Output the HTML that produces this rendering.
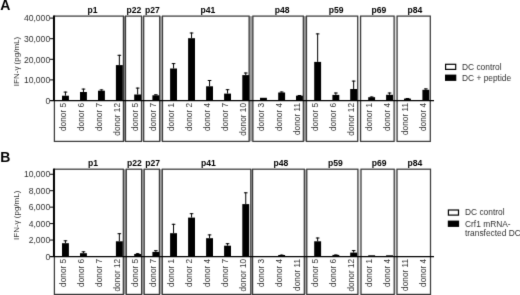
<!DOCTYPE html>
<html><head><meta charset="utf-8"><style>
html,body{margin:0;padding:0;background:#fff;width:520px;height:295px;overflow:hidden}
svg{display:block;font-family:"Liberation Sans",sans-serif;filter:grayscale(1)}
</style></head><body>
<svg width="520" height="295" viewBox="0 0 520 295">
<defs><filter id="soft" x="0" y="0" width="520" height="295" filterUnits="userSpaceOnUse" color-interpolation-filters="sRGB"><feConvolveMatrix order="3" kernelMatrix="0.01 0.08 0.01 0.08 0.64 0.08 0.01 0.08 0.01" edgeMode="duplicate"/></filter></defs>
<g filter="url(#soft)"><rect x="0" y="0" width="520" height="295" fill="#fff"/>
<text x="0.3" y="9.9" font-size="14" font-weight="bold" fill="#000">A</text>
<rect x="123.4" y="16.1" width="2.10" height="125.30" fill="#8a8a8a"/>
<rect x="141.5" y="16.1" width="2.20" height="125.30" fill="#c4c4c4"/>
<rect x="159.7" y="16.1" width="2.80" height="125.30" fill="#b0b0b0"/>
<rect x="249.1" y="16.1" width="3.80" height="125.30" fill="#a0a0a0"/>
<rect x="303.3" y="16.1" width="3.20" height="125.30" fill="#9a9a9a"/>
<rect x="357.7" y="16.1" width="2.90" height="125.30" fill="#f0f0f0"/>
<rect x="394.1" y="16.1" width="3.00" height="125.30" fill="#e4e4e4"/>
<text x="92.6" y="12.5" font-size="8.6" font-weight="bold" text-anchor="middle" fill="#000">p1</text>
<rect x="54.4" y="16.1" width="69.00" height="125.30" fill="none" stroke="#3a3a3a" stroke-width="1.25"/>
<rect x="62" y="95.7" width="6.9" height="4.80" fill="#000"/>
<line x1="65.45" y1="91.6" x2="65.45" y2="95.7" stroke="#000" stroke-width="1"/>
<line x1="63.65" y1="92.10" x2="67.25" y2="92.10" stroke="#000" stroke-width="1"/>
<text transform="translate(66.00,102.9) rotate(-90)" font-size="8.3" text-anchor="end" fill="#303030">donor 5</text>
<rect x="80" y="92" width="6.9" height="8.50" fill="#000"/>
<line x1="83.45" y1="88.6" x2="83.45" y2="92" stroke="#000" stroke-width="1"/>
<line x1="81.65" y1="89.10" x2="85.25" y2="89.10" stroke="#000" stroke-width="1"/>
<text transform="translate(84.00,102.9) rotate(-90)" font-size="8.3" text-anchor="end" fill="#303030">donor 6</text>
<rect x="98" y="90.7" width="6.9" height="9.80" fill="#000"/>
<line x1="101.45" y1="89.4" x2="101.45" y2="90.7" stroke="#000" stroke-width="1"/>
<line x1="99.65" y1="89.90" x2="103.25" y2="89.90" stroke="#000" stroke-width="1"/>
<text transform="translate(102.00,102.9) rotate(-90)" font-size="8.3" text-anchor="end" fill="#303030">donor 7</text>
<rect x="115.9" y="65.1" width="6.9" height="35.40" fill="#000"/>
<line x1="119.35" y1="54.8" x2="119.35" y2="65.1" stroke="#000" stroke-width="1"/>
<line x1="117.55" y1="55.30" x2="121.15" y2="55.30" stroke="#000" stroke-width="1"/>
<text transform="translate(119.90,102.9) rotate(-90)" font-size="8.3" text-anchor="end" fill="#303030">donor 12</text>
<text x="134" y="12.5" font-size="8.6" font-weight="bold" text-anchor="middle" fill="#000">p22</text>
<rect x="125.5" y="16.1" width="16.00" height="125.30" fill="none" stroke="#3a3a3a" stroke-width="1.25"/>
<rect x="134.2" y="94.5" width="6.9" height="6.00" fill="#000"/>
<line x1="137.65" y1="87.6" x2="137.65" y2="94.5" stroke="#000" stroke-width="1"/>
<line x1="135.85" y1="88.10" x2="139.45" y2="88.10" stroke="#000" stroke-width="1"/>
<text transform="translate(138.20,102.9) rotate(-90)" font-size="8.3" text-anchor="end" fill="#303030">donor 5</text>
<text x="152.5" y="12.5" font-size="8.6" font-weight="bold" text-anchor="middle" fill="#000">p27</text>
<rect x="143.7" y="16.1" width="16.00" height="125.30" fill="none" stroke="#3a3a3a" stroke-width="1.25"/>
<rect x="152.4" y="95.3" width="6.9" height="5.20" fill="#000"/>
<line x1="155.85" y1="94.3" x2="155.85" y2="95.3" stroke="#000" stroke-width="1"/>
<line x1="154.05" y1="94.80" x2="157.65" y2="94.80" stroke="#000" stroke-width="1"/>
<text transform="translate(156.40,102.9) rotate(-90)" font-size="8.3" text-anchor="end" fill="#303030">donor 7</text>
<text x="207.9" y="12.5" font-size="8.6" font-weight="bold" text-anchor="middle" fill="#000">p41</text>
<rect x="162.5" y="16.1" width="86.60" height="125.30" fill="none" stroke="#3a3a3a" stroke-width="1.25"/>
<rect x="170.1" y="68.5" width="6.9" height="32.00" fill="#000"/>
<line x1="173.55" y1="63.1" x2="173.55" y2="68.5" stroke="#000" stroke-width="1"/>
<line x1="171.75" y1="63.60" x2="175.35" y2="63.60" stroke="#000" stroke-width="1"/>
<text transform="translate(174.10,102.9) rotate(-90)" font-size="8.3" text-anchor="end" fill="#303030">donor 1</text>
<rect x="188.1" y="38.2" width="6.9" height="62.30" fill="#000"/>
<line x1="191.55" y1="32.5" x2="191.55" y2="38.2" stroke="#000" stroke-width="1"/>
<line x1="189.75" y1="33.00" x2="193.35" y2="33.00" stroke="#000" stroke-width="1"/>
<text transform="translate(192.10,102.9) rotate(-90)" font-size="8.3" text-anchor="end" fill="#303030">donor 2</text>
<rect x="206.1" y="86.3" width="6.9" height="14.20" fill="#000"/>
<line x1="209.55" y1="80" x2="209.55" y2="86.3" stroke="#000" stroke-width="1"/>
<line x1="207.75" y1="80.50" x2="211.35" y2="80.50" stroke="#000" stroke-width="1"/>
<text transform="translate(210.10,102.9) rotate(-90)" font-size="8.3" text-anchor="end" fill="#303030">donor 4</text>
<rect x="224.1" y="93.6" width="6.9" height="6.90" fill="#000"/>
<line x1="227.55" y1="89.2" x2="227.55" y2="93.6" stroke="#000" stroke-width="1"/>
<line x1="225.75" y1="89.70" x2="229.35" y2="89.70" stroke="#000" stroke-width="1"/>
<text transform="translate(228.10,102.9) rotate(-90)" font-size="8.3" text-anchor="end" fill="#303030">donor 7</text>
<rect x="242.3" y="75.1" width="6.9" height="25.40" fill="#000"/>
<line x1="245.75" y1="72.5" x2="245.75" y2="75.1" stroke="#000" stroke-width="1"/>
<line x1="243.95" y1="73.00" x2="247.55" y2="73.00" stroke="#000" stroke-width="1"/>
<text transform="translate(246.30,102.9) rotate(-90)" font-size="8.3" text-anchor="end" fill="#303030">donor 10</text>
<text x="282.2" y="12.5" font-size="8.6" font-weight="bold" text-anchor="middle" fill="#000">p48</text>
<rect x="252.9" y="16.1" width="50.40" height="125.30" fill="none" stroke="#3a3a3a" stroke-width="1.25"/>
<rect x="260" y="97.8" width="6.9" height="2.70" fill="#000"/>
<text transform="translate(264.00,102.9) rotate(-90)" font-size="8.3" text-anchor="end" fill="#303030">donor 3</text>
<rect x="278.2" y="92.5" width="6.9" height="8.00" fill="#000"/>
<line x1="281.65" y1="91.5" x2="281.65" y2="92.5" stroke="#000" stroke-width="1"/>
<line x1="279.85" y1="92.00" x2="283.45" y2="92.00" stroke="#000" stroke-width="1"/>
<text transform="translate(282.20,102.9) rotate(-90)" font-size="8.3" text-anchor="end" fill="#303030">donor 4</text>
<rect x="296" y="95.7" width="6.9" height="4.80" fill="#000"/>
<line x1="299.45" y1="95" x2="299.45" y2="95.7" stroke="#000" stroke-width="1"/>
<line x1="297.65" y1="95.50" x2="301.25" y2="95.50" stroke="#000" stroke-width="1"/>
<text transform="translate(300.00,102.9) rotate(-90)" font-size="8.3" text-anchor="end" fill="#303030">donor 11</text>
<text x="336.1" y="12.5" font-size="8.6" font-weight="bold" text-anchor="middle" fill="#000">p59</text>
<rect x="306.5" y="16.1" width="51.20" height="125.30" fill="none" stroke="#3a3a3a" stroke-width="1.25"/>
<rect x="314.2" y="61.9" width="6.9" height="38.60" fill="#000"/>
<line x1="317.65" y1="33.4" x2="317.65" y2="61.9" stroke="#000" stroke-width="1"/>
<line x1="315.85" y1="33.90" x2="319.45" y2="33.90" stroke="#000" stroke-width="1"/>
<text transform="translate(318.20,102.9) rotate(-90)" font-size="8.3" text-anchor="end" fill="#303030">donor 5</text>
<rect x="332.4" y="94.9" width="6.9" height="5.60" fill="#000"/>
<line x1="335.85" y1="92.5" x2="335.85" y2="94.9" stroke="#000" stroke-width="1"/>
<line x1="334.05" y1="93.00" x2="337.65" y2="93.00" stroke="#000" stroke-width="1"/>
<text transform="translate(336.40,102.9) rotate(-90)" font-size="8.3" text-anchor="end" fill="#303030">donor 6</text>
<rect x="350.2" y="89" width="6.9" height="11.50" fill="#000"/>
<line x1="353.65" y1="80.6" x2="353.65" y2="89" stroke="#000" stroke-width="1"/>
<line x1="351.85" y1="81.10" x2="355.45" y2="81.10" stroke="#000" stroke-width="1"/>
<text transform="translate(354.20,102.9) rotate(-90)" font-size="8.3" text-anchor="end" fill="#303030">donor 12</text>
<text x="378.8" y="12.5" font-size="8.6" font-weight="bold" text-anchor="middle" fill="#000">p69</text>
<rect x="360.6" y="16.1" width="33.50" height="125.30" fill="none" stroke="#3a3a3a" stroke-width="1.25"/>
<rect x="368.2" y="97.2" width="6.9" height="3.30" fill="#000"/>
<line x1="371.65" y1="96.5" x2="371.65" y2="97.2" stroke="#000" stroke-width="1"/>
<line x1="369.85" y1="97.00" x2="373.45" y2="97.00" stroke="#000" stroke-width="1"/>
<text transform="translate(372.20,102.9) rotate(-90)" font-size="8.3" text-anchor="end" fill="#303030">donor 1</text>
<rect x="386.1" y="94.8" width="6.9" height="5.70" fill="#000"/>
<line x1="389.55" y1="92.5" x2="389.55" y2="94.8" stroke="#000" stroke-width="1"/>
<line x1="387.75" y1="93.00" x2="391.35" y2="93.00" stroke="#000" stroke-width="1"/>
<text transform="translate(390.10,102.9) rotate(-90)" font-size="8.3" text-anchor="end" fill="#303030">donor 4</text>
<text x="415" y="12.5" font-size="8.6" font-weight="bold" text-anchor="middle" fill="#000">p84</text>
<rect x="397.1" y="16.1" width="33.20" height="125.30" fill="none" stroke="#3a3a3a" stroke-width="1.25"/>
<rect x="404" y="98.6" width="6.9" height="1.90" fill="#000"/>
<line x1="407.45" y1="98" x2="407.45" y2="98.6" stroke="#000" stroke-width="1"/>
<line x1="405.65" y1="98.50" x2="409.25" y2="98.50" stroke="#000" stroke-width="1"/>
<text transform="translate(408.00,102.9) rotate(-90)" font-size="8.3" text-anchor="end" fill="#303030">donor 11</text>
<rect x="422.4" y="89.8" width="6.9" height="10.70" fill="#000"/>
<line x1="425.85" y1="88.4" x2="425.85" y2="89.8" stroke="#000" stroke-width="1"/>
<line x1="424.05" y1="88.90" x2="427.65" y2="88.90" stroke="#000" stroke-width="1"/>
<text transform="translate(426.40,102.9) rotate(-90)" font-size="8.3" text-anchor="end" fill="#303030">donor 4</text>
<line x1="50" y1="100.5" x2="434" y2="100.5" stroke="#000" stroke-width="1.25"/>
<line x1="53.9" y1="15.500000000000002" x2="53.9" y2="100.5" stroke="#000" stroke-width="1.9"/>
<line x1="50" y1="100.50" x2="54" y2="100.50" stroke="#000" stroke-width="1"/>
<text x="50.2" y="103.70" font-size="8.6" text-anchor="end" fill="#303030">0</text>
<line x1="50" y1="79.90" x2="54" y2="79.90" stroke="#000" stroke-width="1"/>
<text x="50.2" y="83.10" font-size="8.6" text-anchor="end" fill="#303030">10,000</text>
<line x1="50" y1="59.30" x2="54" y2="59.30" stroke="#000" stroke-width="1"/>
<text x="50.2" y="62.50" font-size="8.6" text-anchor="end" fill="#303030">20,000</text>
<line x1="50" y1="38.70" x2="54" y2="38.70" stroke="#000" stroke-width="1"/>
<text x="50.2" y="41.90" font-size="8.6" text-anchor="end" fill="#303030">30,000</text>
<line x1="50" y1="18.10" x2="54" y2="18.10" stroke="#000" stroke-width="1"/>
<text x="50.2" y="21.30" font-size="8.6" text-anchor="end" fill="#303030">40,000</text>
<text transform="translate(19.1,61.5) rotate(-90)" font-size="8" text-anchor="middle" fill="#303030">IFN-&#947; (pg/mL)</text>
<rect x="445.6" y="64.3" width="10.1" height="5.1" fill="#fff" stroke="#000" stroke-width="1.2"/>
<text x="462" y="69.7" font-size="8.4" fill="#303030">DC control</text>
<rect x="445" y="74.6" width="11.3" height="6.3" fill="#000"/>
<text x="462" y="80.6" font-size="8.4" fill="#303030">DC + peptide</text>
<text x="0.3" y="161.5" font-size="14" font-weight="bold" fill="#000">B</text>
<rect x="123.3" y="169.2" width="3.00" height="125.20" fill="#9a9a9a"/>
<rect x="141.6" y="169.2" width="2.60" height="125.20" fill="#b0b0b0"/>
<rect x="159.4" y="169.2" width="2.90" height="125.20" fill="#aaaaaa"/>
<rect x="250.8" y="169.2" width="1.80" height="125.20" fill="#bbbbbb"/>
<rect x="304.3" y="169.2" width="2.50" height="125.20" fill="#aaaaaa"/>
<rect x="357.9" y="169.2" width="3.10" height="125.20" fill="#e8e8e8"/>
<rect x="394.2" y="169.2" width="2.80" height="125.20" fill="#d8d8d8"/>
<text x="93.0" y="166.2" font-size="8.6" font-weight="bold" text-anchor="middle" fill="#000">p1</text>
<rect x="54.4" y="169.2" width="68.90" height="125.20" fill="none" stroke="#3a3a3a" stroke-width="1.25"/>
<rect x="62" y="243.2" width="6.9" height="13.30" fill="#000"/>
<line x1="65.45" y1="240.3" x2="65.45" y2="243.2" stroke="#000" stroke-width="1"/>
<line x1="63.65" y1="240.80" x2="67.25" y2="240.80" stroke="#000" stroke-width="1"/>
<text transform="translate(66.00,258.8) rotate(-90)" font-size="8.3" text-anchor="end" fill="#303030">donor 5</text>
<rect x="80" y="253.2" width="6.9" height="3.30" fill="#000"/>
<line x1="83.45" y1="251.3" x2="83.45" y2="253.2" stroke="#000" stroke-width="1"/>
<line x1="81.65" y1="251.80" x2="85.25" y2="251.80" stroke="#000" stroke-width="1"/>
<text transform="translate(84.00,258.8) rotate(-90)" font-size="8.3" text-anchor="end" fill="#303030">donor 6</text>
<text transform="translate(102.00,258.8) rotate(-90)" font-size="8.3" text-anchor="end" fill="#303030">donor 7</text>
<rect x="115.9" y="241.3" width="6.9" height="15.20" fill="#000"/>
<line x1="119.35" y1="233.2" x2="119.35" y2="241.3" stroke="#000" stroke-width="1"/>
<line x1="117.55" y1="233.70" x2="121.15" y2="233.70" stroke="#000" stroke-width="1"/>
<text transform="translate(119.90,258.8) rotate(-90)" font-size="8.3" text-anchor="end" fill="#303030">donor 12</text>
<text x="134.3" y="166.2" font-size="8.6" font-weight="bold" text-anchor="middle" fill="#000">p22</text>
<rect x="126.3" y="169.2" width="15.30" height="125.20" fill="none" stroke="#3a3a3a" stroke-width="1.25"/>
<rect x="134.2" y="254" width="6.9" height="2.50" fill="#000"/>
<line x1="137.65" y1="253.2" x2="137.65" y2="254" stroke="#000" stroke-width="1"/>
<line x1="135.85" y1="253.70" x2="139.45" y2="253.70" stroke="#000" stroke-width="1"/>
<text transform="translate(138.20,258.8) rotate(-90)" font-size="8.3" text-anchor="end" fill="#303030">donor 5</text>
<text x="152.7" y="166.2" font-size="8.6" font-weight="bold" text-anchor="middle" fill="#000">p27</text>
<rect x="144.2" y="169.2" width="15.20" height="125.20" fill="none" stroke="#3a3a3a" stroke-width="1.25"/>
<rect x="152.4" y="251.9" width="6.9" height="4.60" fill="#000"/>
<line x1="155.85" y1="250.2" x2="155.85" y2="251.9" stroke="#000" stroke-width="1"/>
<line x1="154.05" y1="250.70" x2="157.65" y2="250.70" stroke="#000" stroke-width="1"/>
<text transform="translate(156.40,258.8) rotate(-90)" font-size="8.3" text-anchor="end" fill="#303030">donor 7</text>
<text x="208.3" y="166.2" font-size="8.6" font-weight="bold" text-anchor="middle" fill="#000">p41</text>
<rect x="162.3" y="169.2" width="88.50" height="125.20" fill="none" stroke="#3a3a3a" stroke-width="1.25"/>
<rect x="170.1" y="233.2" width="6.9" height="23.30" fill="#000"/>
<line x1="173.55" y1="223.8" x2="173.55" y2="233.2" stroke="#000" stroke-width="1"/>
<line x1="171.75" y1="224.30" x2="175.35" y2="224.30" stroke="#000" stroke-width="1"/>
<text transform="translate(174.10,258.8) rotate(-90)" font-size="8.3" text-anchor="end" fill="#303030">donor 1</text>
<rect x="188.1" y="217.6" width="6.9" height="38.90" fill="#000"/>
<line x1="191.55" y1="213.2" x2="191.55" y2="217.6" stroke="#000" stroke-width="1"/>
<line x1="189.75" y1="213.70" x2="193.35" y2="213.70" stroke="#000" stroke-width="1"/>
<text transform="translate(192.10,258.8) rotate(-90)" font-size="8.3" text-anchor="end" fill="#303030">donor 2</text>
<rect x="206.1" y="238.2" width="6.9" height="18.30" fill="#000"/>
<line x1="209.55" y1="234.4" x2="209.55" y2="238.2" stroke="#000" stroke-width="1"/>
<line x1="207.75" y1="234.90" x2="211.35" y2="234.90" stroke="#000" stroke-width="1"/>
<text transform="translate(210.10,258.8) rotate(-90)" font-size="8.3" text-anchor="end" fill="#303030">donor 4</text>
<rect x="224.1" y="245.7" width="6.9" height="10.80" fill="#000"/>
<line x1="227.55" y1="243.2" x2="227.55" y2="245.7" stroke="#000" stroke-width="1"/>
<line x1="225.75" y1="243.70" x2="229.35" y2="243.70" stroke="#000" stroke-width="1"/>
<text transform="translate(228.10,258.8) rotate(-90)" font-size="8.3" text-anchor="end" fill="#303030">donor 7</text>
<rect x="242.3" y="204.1" width="6.9" height="52.40" fill="#000"/>
<line x1="245.75" y1="192.3" x2="245.75" y2="204.1" stroke="#000" stroke-width="1"/>
<line x1="243.95" y1="192.80" x2="247.55" y2="192.80" stroke="#000" stroke-width="1"/>
<text transform="translate(246.30,258.8) rotate(-90)" font-size="8.3" text-anchor="end" fill="#303030">donor 10</text>
<text x="280.8" y="166.2" font-size="8.6" font-weight="bold" text-anchor="middle" fill="#000">p48</text>
<rect x="252.6" y="169.2" width="51.70" height="125.20" fill="none" stroke="#3a3a3a" stroke-width="1.25"/>
<text transform="translate(264.00,258.8) rotate(-90)" font-size="8.3" text-anchor="end" fill="#303030">donor 3</text>
<rect x="278.2" y="255" width="6.9" height="1.50" fill="#000"/>
<line x1="281.65" y1="254.6" x2="281.65" y2="255" stroke="#000" stroke-width="1"/>
<line x1="279.85" y1="255.10" x2="283.45" y2="255.10" stroke="#000" stroke-width="1"/>
<text transform="translate(282.20,258.8) rotate(-90)" font-size="8.3" text-anchor="end" fill="#303030">donor 4</text>
<text transform="translate(300.00,258.8) rotate(-90)" font-size="8.3" text-anchor="end" fill="#303030">donor 11</text>
<text x="335.4" y="166.2" font-size="8.6" font-weight="bold" text-anchor="middle" fill="#000">p59</text>
<rect x="306.8" y="169.2" width="51.10" height="125.20" fill="none" stroke="#3a3a3a" stroke-width="1.25"/>
<rect x="314.2" y="241.3" width="6.9" height="15.20" fill="#000"/>
<line x1="317.65" y1="237.5" x2="317.65" y2="241.3" stroke="#000" stroke-width="1"/>
<line x1="315.85" y1="238.00" x2="319.45" y2="238.00" stroke="#000" stroke-width="1"/>
<text transform="translate(318.20,258.8) rotate(-90)" font-size="8.3" text-anchor="end" fill="#303030">donor 5</text>
<rect x="332.4" y="254.9" width="6.9" height="1.60" fill="#000"/>
<line x1="335.85" y1="254.5" x2="335.85" y2="254.9" stroke="#000" stroke-width="1"/>
<line x1="334.05" y1="255.00" x2="337.65" y2="255.00" stroke="#000" stroke-width="1"/>
<text transform="translate(336.40,258.8) rotate(-90)" font-size="8.3" text-anchor="end" fill="#303030">donor 6</text>
<rect x="350.2" y="252.6" width="6.9" height="3.90" fill="#000"/>
<line x1="353.65" y1="250.1" x2="353.65" y2="252.6" stroke="#000" stroke-width="1"/>
<line x1="351.85" y1="250.60" x2="355.45" y2="250.60" stroke="#000" stroke-width="1"/>
<text transform="translate(354.20,258.8) rotate(-90)" font-size="8.3" text-anchor="end" fill="#303030">donor 12</text>
<text x="379.2" y="166.2" font-size="8.6" font-weight="bold" text-anchor="middle" fill="#000">p69</text>
<rect x="361.0" y="169.2" width="33.20" height="125.20" fill="none" stroke="#3a3a3a" stroke-width="1.25"/>
<rect x="368.2" y="255.3" width="6.9" height="1.20" fill="#000"/>
<text transform="translate(372.20,258.8) rotate(-90)" font-size="8.3" text-anchor="end" fill="#303030">donor 1</text>
<rect x="386.1" y="255.3" width="6.9" height="1.20" fill="#000"/>
<text transform="translate(390.10,258.8) rotate(-90)" font-size="8.3" text-anchor="end" fill="#303030">donor 4</text>
<text x="415.0" y="166.2" font-size="8.6" font-weight="bold" text-anchor="middle" fill="#000">p84</text>
<rect x="397.0" y="169.2" width="33.50" height="125.20" fill="none" stroke="#3a3a3a" stroke-width="1.25"/>
<text transform="translate(408.00,258.8) rotate(-90)" font-size="8.3" text-anchor="end" fill="#303030">donor 11</text>
<text transform="translate(426.40,258.8) rotate(-90)" font-size="8.3" text-anchor="end" fill="#303030">donor 4</text>
<line x1="50" y1="256.5" x2="434" y2="256.5" stroke="#000" stroke-width="1.25"/>
<line x1="53.9" y1="168.6" x2="53.9" y2="256.5" stroke="#000" stroke-width="1.9"/>
<line x1="50" y1="256.50" x2="54" y2="256.50" stroke="#000" stroke-width="1"/>
<text x="50.2" y="259.70" font-size="8.6" text-anchor="end" fill="#303030">0</text>
<line x1="50" y1="240.05" x2="54" y2="240.05" stroke="#000" stroke-width="1"/>
<text x="50.2" y="243.25" font-size="8.6" text-anchor="end" fill="#303030">2,000</text>
<line x1="50" y1="223.60" x2="54" y2="223.60" stroke="#000" stroke-width="1"/>
<text x="50.2" y="226.80" font-size="8.6" text-anchor="end" fill="#303030">4,000</text>
<line x1="50" y1="207.15" x2="54" y2="207.15" stroke="#000" stroke-width="1"/>
<text x="50.2" y="210.35" font-size="8.6" text-anchor="end" fill="#303030">6,000</text>
<line x1="50" y1="190.70" x2="54" y2="190.70" stroke="#000" stroke-width="1"/>
<text x="50.2" y="193.90" font-size="8.6" text-anchor="end" fill="#303030">8,000</text>
<line x1="50" y1="174.25" x2="54" y2="174.25" stroke="#000" stroke-width="1"/>
<text x="50.2" y="177.45" font-size="8.6" text-anchor="end" fill="#303030">10,000</text>
<text transform="translate(19.1,215.3) rotate(-90)" font-size="8" text-anchor="middle" fill="#303030">IFN-&#947; (pg/mL)</text>
<rect x="448.40000000000003" y="210.0" width="10.1" height="5.1" fill="#fff" stroke="#000" stroke-width="1.2"/>
<text x="465" y="215.4" font-size="8.4" fill="#303030">DC control</text>
<rect x="447.8" y="220.6" width="11.3" height="6.3" fill="#000"/>
<text x="465" y="226.6" font-size="8.4" fill="#303030">Crf1 mRNA-</text>
<text x="465" y="236.3" font-size="8.4" fill="#303030">transfected DC</text>
</g></svg>
</body></html>
